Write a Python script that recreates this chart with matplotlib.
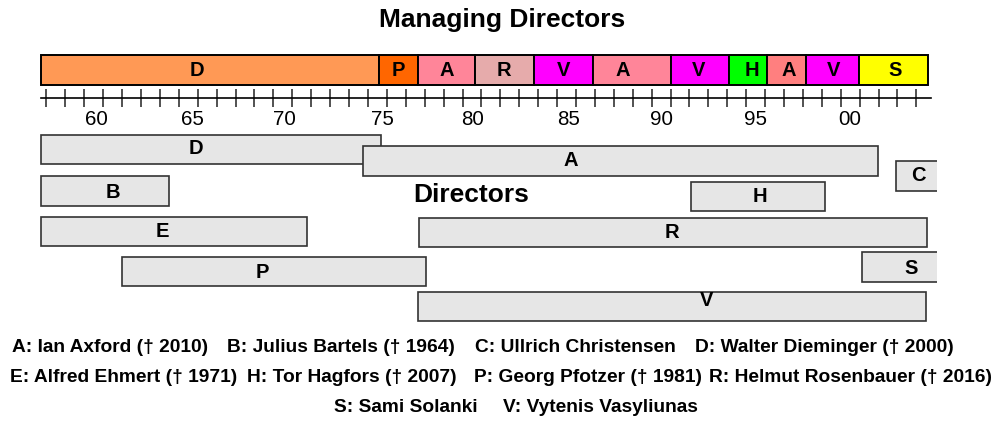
import matplotlib
matplotlib.use('Agg')
import matplotlib.pyplot as plt

plt.rcParams['font.family'] = ['Liberation Sans', 'DejaVu Sans']

# ---- managing directors (coloured band on top) ----
md_names = ['D', 'P', 'A', 'R', 'V', 'A', 'V', 'H', 'A', 'V', 'S']
md_start = [1957.7, 1975.6, 1977.65, 1980.65, 1983.8, 1986.9, 1991.0, 1994.1, 1996.1, 1998.15, 2000.95]
md_end = md_start[1:] + [2004.6]
md_colors = ['#ff9955', '#ff6600', '#ff8599', '#e6abab', '#ff00ff', '#ff8599',
             '#ff00ff', '#00ff00', '#ff7f7f', '#ff00ff', '#ffff00']
md_label_x = [1965.95, 1976.6, 1979.15, 1982.2, 1985.35, 1988.5, 1992.5, 1995.3, 1997.25, 1999.6, 2002.9]

# ---- directors (grey bars) ----
dir_names = ['D', 'A', 'C', 'B', 'H', 'E', 'R', 'P', 'S', 'V']
dir_start = [1957.7, 1974.75, 2002.9, 1957.7, 1992.1, 1957.7, 1977.7, 1962.0, 2001.15, 1977.65]
dir_end = [1975.7, 2001.95, 2006.0, 1964.5, 1999.15, 1971.8, 2004.55, 1978.05, 2006.0, 2004.5]
dir_label_x = [1965.9, 1985.7, 2004.1, 1961.5, 1995.75, 1964.15, 1991.1, 1969.4, 2003.7, 1992.9]

# year ticks (one per year, labels sit inside the year interval)
tick_years = list(range(1958, 2005))
label_pos = [1960.66, 1965.72, 1970.56, 1975.74, 1980.54, 1985.63, 1990.5, 1995.52, 2000.5]
year_labels = ['60', '65', '70', '75', '80', '85', '90', '95', '00']

legend_rows = [
    ['A: Ian Axford (\u2020 2010)', 'B: Julius Bartels (\u2020 1964)',
     'C: Ullrich Christensen', 'D: Walter Dieminger (\u2020 2000)'],
    ['E: Alfred Ehmert (\u2020 1971)', 'H: Tor Hagfors (\u2020 2007)',
     'P: Georg Pfotzer (\u2020 1981)', 'R: Helmut Rosenbauer (\u2020 2016)'],
    ['S: Sami Solanki', 'V: Vytenis Vasyliunas'],
]

# ---- layout (pixels) ----
W, H = 1004, 424
md_top, md_h = 55, 29.5
axis_y = 98.3
dir_top = [134.5, 146, 161, 176, 181.5, 216.5, 217.5, 256.5, 252, 291.5]
dir_label_y = [149, 160, 175.5, 192, 196, 231.5, 232, 272, 268, 301]
bar_h = 29.5
legend_x = [[12, 227, 475, 695], [10, 247, 474, 709], [334, 503]]
legend_y = [347, 377, 407]

fig = plt.figure(figsize=(W / 100, H / 100), dpi=100)
clip_px = 937
ax = fig.add_axes([0, 0, clip_px / W, 1])
x0 = 1960 - 84.3 / 18.91
x1 = 1960 + (clip_px - 84.3) / 18.91
ax.set_xlim(x0, x1)
ax.set_ylim(H, 0)
ax.patch.set_visible(False)

# top band
for name, s, e, c, lx in zip(md_names, md_start, md_end, md_colors, md_label_x):
    ax.barh(md_top + md_h / 2, e - s, left=s, height=md_h, color=c,
            edgecolor='black', linewidth=1.4, zorder=2)
    ax.text(lx, md_top + md_h / 2 + 1, name, ha='center', va='center',
            fontsize=14.5, fontweight='bold', zorder=3)

# directors
for name, s, e, t, lx, ly in zip(dir_names, dir_start, dir_end, dir_top, dir_label_x, dir_label_y):
    ax.barh(t + bar_h / 2, e - s, left=s, height=bar_h, color='#e6e6e6',
            edgecolor='#333333', linewidth=1.2, zorder=2)
    ax.text(lx, ly, name, ha='center', va='center', fontsize=14.5,
            fontweight='bold', zorder=3)

# time axis
for side in ['left', 'right', 'top']:
    ax.spines[side].set_visible(False)
ax.spines['bottom'].set_position(('data', axis_y))
ax.spines['bottom'].set_bounds(1957.7, 2004.8)
ax.spines['bottom'].set_linewidth(1.2)
ax.set_yticks([])
ax.set_xticks(tick_years, labels=[''] * len(tick_years))
ax.set_xticks(label_pos, labels=year_labels, minor=True)
ax.tick_params(axis='x', which='major', direction='inout', length=13, width=1.1, color='#222222')
ax.tick_params(axis='x', which='minor', length=0, pad=8.5, labelsize=14.8)

fig.text(502 / W, 1 - 20 / H, 'Managing Directors', ha='center', va='center',
         fontsize=19, fontweight='bold')
fig.text(471 / W, 1 - 195 / H, 'Directors', ha='center', va='center',
         fontsize=19, fontweight='bold')

for row, xs, y in zip(legend_rows, legend_x, legend_y):
    for txt, x in zip(row, xs):
        fig.text(x / W, 1 - y / H, txt, ha='left', va='center',
                 fontsize=13.8, fontweight='bold')

fig.savefig('out.png', dpi=100)
